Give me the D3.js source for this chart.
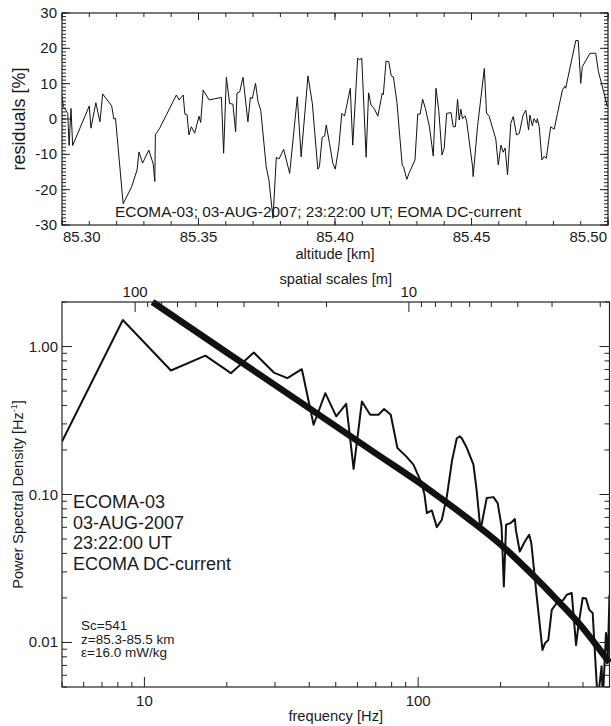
<!DOCTYPE html>
<html lang="en">
<head>
<meta charset="utf-8">
<title>ECOMA-03 residuals and spectrum</title>
<script src="https://cdn.jsdelivr.net/npm/d3@7"></script>
<style>
  body { margin: 0; background: #fff; }
  text { font-family: "Liberation Sans", Arial, Helvetica, sans-serif; fill: #1a1a1a; }
</style>
</head>
<body>
<script>

// ---- top panel: residuals along altitude ----
let altitude = [85.3000, 85.3005, 85.3014, 85.3021, 85.3026, 85.3033, 85.3039, 85.3100, 85.3106, 85.3124,
  85.3139, 85.3149, 85.3182, 85.3190, 85.3196, 85.3202, 85.3224, 85.3255, 85.3275, 85.3282,
  85.3295, 85.3318, 85.3334, 85.3340, 85.3342, 85.3358, 85.3419, 85.3429, 85.3444, 85.3450,
  85.3458, 85.3465, 85.3474, 85.3486, 85.3502, 85.3508, 85.3517, 85.3539, 85.3584, 85.3592,
  85.3602, 85.3614, 85.3626, 85.3636, 85.3641, 85.3651, 85.3663, 85.3681, 85.3690, 85.3697,
  85.3709, 85.3718, 85.3728, 85.3748, 85.3758, 85.3763, 85.3773, 85.3785, 85.3795, 85.3812,
  85.3834, 85.3862, 85.3876, 85.3901, 85.3917, 85.3937, 85.3943, 85.3953, 85.3962, 85.3968,
  85.3980, 85.3992, 85.4001, 85.4014, 85.4025, 85.4035, 85.4056, 85.4065, 85.4083, 85.4090,
  85.4098, 85.4114, 85.4123, 85.4132, 85.4144, 85.4157, 85.4173, 85.4177, 85.4187, 85.4197,
  85.4206, 85.4214, 85.4227, 85.4246, 85.4251, 85.4263, 85.4272, 85.4293, 85.4303, 85.4312,
  85.4321, 85.4331, 85.4346, 85.4360, 85.4370, 85.4380, 85.4392, 85.4400, 85.4409, 85.4425,
  85.4433, 85.4441, 85.4449, 85.4455, 85.4461, 85.4467, 85.4476, 85.4482, 85.4504, 85.4506,
  85.4522, 85.4547, 85.4555, 85.4565, 85.4589, 85.4598, 85.4608, 85.4616, 85.4623, 85.4632,
  85.4644, 85.4653, 85.4665, 85.4675, 85.4689, 85.4699, 85.4709, 85.4714, 85.4723, 85.4729,
  85.4738, 85.4741, 85.4748, 85.4758, 85.4766, 85.4774, 85.4790, 85.4803, 85.4815, 85.4833,
  85.4842, 85.4845, 85.4882, 85.4891, 85.4900, 85.4906, 85.4934, 85.4955, 85.4965, 85.4989, 85.4997];

let residual = [6.8, 3.5, 2.5, 1.6, -7.5, 3.0, -7.5, 3.7, -2.6, 4.6,
  -0.8, 7.1, 3.7, 0.0, 0.2, -5.0, -24.0, -19.2, -14.4, -9.3,
  -12.5, -8.8, -12.7, -17.7, -4.5, -2.6, 6.8, 5.4, 6.8, 1.4,
  1.2, -4.5, -2.2, -4.0, 0.8, -1.0, 8.2, 5.4, 6.1, -9.7,
  11.8, 4.4, 4.2, -3.6, 7.3, 7.7, 11.8, -0.8, 6.1, 5.8,
  10.1, 4.9, 2.5, -13.5, -17.3, -21.0, -28.1, -10.9, -11.3, -8.6,
  -15.4, 6.3, -10.7, 12.2, 4.4, -14.2, -13.5, -5.2, -4.8, -1.7,
  -6.9, -12.5, -14.2, -7.8, 1.6, 0.8, 8.7, -7.4, 17.2, 16.8,
  17.2, -10.8, 7.4, 4.0, 2.9, 0.8, 7.3, 6.9, 16.4, 16.2,
  12.2, 11.9, 4.6, -13.0, -13.5, -17.1, -15.2, -11.6, 1.4, 1.4,
  5.6, 3.0, -2.2, -10.5, 8.7, 2.5, -10.2, -8.2, 1.6, 1.8,
  -2.2, -2.2, 5.6, -0.3, 2.8, 0.1, 0.9, -0.5, -13.5, -16.3,
  -2.2, 14.3, 1.7, 0.7, -5.7, -13.0, -7.4, -9.4, -8.2, -15.8,
  -1.2, 0.7, -4.5, -4.1, 1.1, 2.5, -3.1, 1.1, -1.9, 0.1,
  -1.1, 0.1, -2.2, -11.6, -10.6, -11.1, -2.2, -2.9, 1.6, 8.2,
  9.3, 8.7, 22.2, 22.2, 10.1, 14.8, 18.6, 18.6, 13.4, 6.3, 3.5];

let altTicks = [85.30, 85.35, 85.40, 85.45, 85.50];
let resTicks = [-30, -20, -10, 0, 10, 20, 30];

// ---- bottom panel: power spectrum ----
let freq = [5.0, 8.34, 12.5, 16.7, 20.7, 25.1, 29.7, 33.3, 37.6, 41.5,
  45.8, 50.2, 54.6, 58.1, 62.3, 66.8, 71.6, 75.1, 79.4, 84.0,
  90.4, 96.1, 103, 105.5, 107.6, 112.2, 117, 122, 127.3, 133,
  138.4, 142, 144.3, 150.7, 159.2, 163.5, 168.4, 170.5, 178, 188.4,
  195.2, 201.7, 205.6, 209.5, 217.8, 225.6, 227.5, 235, 245.3, 254.4,
  259, 270.7, 284.5, 290.8, 298.9, 307.6, 318.8, 339.1, 348.9, 363.9,
  377.4, 384.6, 399, 410.4, 421.9, 434, 452.7, 467.7, 473, 485.5, 493, 500];

let psd = [0.228, 1.51, 0.689, 0.869, 0.661, 0.911, 0.667, 0.611, 0.703, 0.296,
  0.484, 0.337, 0.410, 0.149, 0.425, 0.346, 0.346, 0.378, 0.346, 0.206,
  0.181, 0.159, 0.119, 0.0995, 0.0749, 0.078, 0.0602, 0.0675, 0.097, 0.17,
  0.240, 0.247, 0.240, 0.206, 0.159, 0.1075, 0.0608, 0.0625, 0.0946, 0.096,
  0.0874, 0.0608, 0.0239, 0.0624, 0.0642, 0.0682, 0.0577, 0.0412, 0.0481, 0.0534,
  0.047, 0.021, 0.0089, 0.0099, 0.0104, 0.0166, 0.0182, 0.0194, 0.021, 0.0216,
  0.0096, 0.0128, 0.020, 0.0198, 0.0166, 0.0158, 0.0040, 0.0069, 0.0042, 0.0116, 0.0080, 0.021];

// fitted model spectrum (thick curve)
let fitFreq = [10.7, 20.0, 37.1, 68.7, 107.6, 154.8, 199.2, 263.6, 329.7, 390.2, 461.5, 500];
let fitPsd = [2.0, 0.912, 0.421, 0.194, 0.1105, 0.0671, 0.0462, 0.0283, 0.0185, 0.0132, 0.0089, 0.0073];

let freqTicks = [10, 100];
let psdTicks = [0.01, 0.1, 1];
let psdLabels = ["0.01", "0.10", "1.00"];
let scaleTicks = [100, 10];   // spatial scales [m]
let rocketSpeed = 925;        // m/s, spatial scale = speed / frequency

let infoLines = ["ECOMA-03", "03-AUG-2007", "23:22:00 UT", "ECOMA DC-current"];
let paramLines = ["Sc=541", "z=85.3-85.5 km", "\u03b5=16.0 mW/kg"];

//Create SVG element
let svg = d3.select("body")
            .append("svg")
              .attr("width", 611)
              .attr("height", 726);

let ax = svg.append("g").attr("stroke", "#222").attr("stroke-width", 1);

// tick marks along a horizontal edge (len < 0 points up)
function vTicks(scale, vals, y0, len) {
  vals.forEach(v => ax.append("line")
    .attr("x1", scale(v)).attr("x2", scale(v))
    .attr("y1", y0).attr("y2", y0 + len));
}
// tick marks along a vertical edge
function hTicks(scale, vals, x0, len) {
  vals.forEach(v => ax.append("line")
    .attr("y1", scale(v)).attr("y2", scale(v))
    .attr("x1", x0).attr("x2", x0 + len));
}

// ================= top panel =================
let t = {l: 62, r: 608, t: 13, b: 225};
let x1 = d3.scaleLinear().domain([85.30, 85.50]).range([t.l, t.r]);
let y1 = d3.scaleLinear().domain([-30, 30]).range([t.b, t.t]);

svg.append("clipPath").attr("id", "clip1").append("rect")
   .attr("x", t.l).attr("y", t.t).attr("width", t.r - t.l).attr("height", t.b - t.t);

svg.append("path")
   .attr("clip-path", "url(#clip1)")
   .attr("fill", "none")
   .attr("stroke", "#111")
   .attr("stroke-width", 1)
   .attr("stroke-linejoin", "round")
   .attr("d", d3.line().x((d, i) => x1(altitude[i])).y(d => y1(d))(residual));

svg.append("rect")
   .attr("x", t.l).attr("y", t.t).attr("width", t.r - t.l).attr("height", t.b - t.t)
   .attr("fill", "none").attr("stroke", "#222").attr("stroke-width", 1.2);

let altMinor = x1.ticks(20);
let resMinor = y1.ticks(60);
vTicks(x1, altMinor, t.b, -4);
vTicks(x1, altTicks, t.b, -7);
vTicks(x1, altMinor, t.t, 4);
vTicks(x1, altTicks, t.t, 7);
hTicks(y1, resMinor, t.l, 4);
hTicks(y1, resTicks, t.l, 8);
hTicks(y1, resMinor, t.r, -4);
hTicks(y1, resTicks, t.r, -8);

// altitude labels, the end ones kept inside the frame
altTicks.forEach(v => {
  let lbl = svg.append("text")
    .attr("x", x1(v)).attr("y", 242)
    .attr("text-anchor", "middle")
    .attr("font-size", 15)
    .text(v.toFixed(2));
  let half = lbl.node().getComputedTextLength() / 2;
  if (x1(v) - half < t.l) lbl.attr("x", t.l + 1).attr("text-anchor", "start");
  if (x1(v) + half > t.r) lbl.attr("x", t.r - 1).attr("text-anchor", "end");
});

resTicks.forEach(v => {
  svg.append("text")
    .attr("x", 57).attr("y", y1(v) + 5)
    .attr("text-anchor", "end")
    .attr("font-size", 15)
    .text(v);
});

svg.append("text")
   .attr("x", (t.l + t.r) / 2).attr("y", 259)
   .attr("text-anchor", "middle").attr("font-size", 14.7)
   .text("altitude [km]");

svg.append("text")
   .attr("transform", `translate(25,${(t.t + t.b) / 2}) rotate(-90)`)
   .attr("text-anchor", "middle").attr("font-size", 18)
   .text("residuals [%]");

svg.append("text")
   .attr("x", 115).attr("y", 217)
   .attr("font-size", 15.4)
   .text("ECOMA-03; 03-AUG-2007; 23:22:00 UT; EOMA DC-current");

// ================= bottom panel =================
let b = {l: 62, r: 609.5, t: 302, b: 687};
let x2 = d3.scaleLog().domain([5, 500]).range([b.l, b.r]);
let y2 = d3.scaleLog().domain([0.005, 2]).range([b.b, b.t]);
// spatial scale axis on top, lambda = speed / f
let lam = d3.scaleLog().domain([rocketSpeed / 5, rocketSpeed / 500]).range([b.l, b.r]);

svg.append("clipPath").attr("id", "clip2").append("rect")
   .attr("x", b.l).attr("y", b.t).attr("width", b.r - b.l).attr("height", b.b - b.t);

svg.append("path")
   .attr("clip-path", "url(#clip2)")
   .attr("fill", "none")
   .attr("stroke", "#111")
   .attr("stroke-width", 2)
   .attr("stroke-linejoin", "round")
   .attr("d", d3.line().x((d, i) => x2(freq[i])).y(d => y2(d))(psd));

svg.append("path")
   .attr("fill", "none")
   .attr("stroke", "#111")
   .attr("stroke-width", 6.5)
   .attr("d", d3.line().curve(d3.curveMonotoneX)
                .x((d, i) => x2(fitFreq[i])).y(d => y2(d))(fitPsd));

svg.append("rect")
   .attr("x", b.l).attr("y", b.t).attr("width", b.r - b.l).attr("height", b.b - b.t)
   .attr("fill", "none").attr("stroke", "#222").attr("stroke-width", 1.2);

let isDecade = v => Math.abs(Math.log10(v) - Math.round(Math.log10(v))) < 1e-6;
let fMinor = x2.ticks().filter(v => !isDecade(v));
let pMinor = y2.ticks().filter(v => !isDecade(v));
let lMinor = lam.ticks().filter(v => !isDecade(v));

vTicks(x2, fMinor, b.b, -5);
vTicks(x2, freqTicks, b.b, -10);
vTicks(lam, lMinor, b.t, 5);
vTicks(lam, scaleTicks, b.t, 10);
hTicks(y2, pMinor, b.l, 5);
hTicks(y2, psdTicks, b.l, 10);
hTicks(y2, pMinor, b.r, -5);
hTicks(y2, psdTicks, b.r, -10);

freqTicks.forEach(v => {
  svg.append("text")
    .attr("x", x2(v)).attr("y", 706)
    .attr("text-anchor", "middle").attr("font-size", 15)
    .text(v);
});

scaleTicks.forEach(v => {
  svg.append("text")
    .attr("x", lam(v)).attr("y", 297)
    .attr("text-anchor", "middle").attr("font-size", 15)
    .text(v);
});

psdTicks.forEach((v, i) => {
  svg.append("text")
    .attr("x", 58).attr("y", y2(v) + 5)
    .attr("text-anchor", "end").attr("font-size", 15)
    .text(psdLabels[i]);
});

svg.append("text")
   .attr("x", (b.l + b.r) / 2).attr("y", 721)
   .attr("text-anchor", "middle").attr("font-size", 14.7)
   .text("frequency [Hz]");

svg.append("text")
   .attr("x", (b.l + b.r) / 2).attr("y", 284)
   .attr("text-anchor", "middle").attr("font-size", 14.7)
   .text("spatial scales [m]");

let ylab = svg.append("text")
   .attr("transform", `translate(23,${(b.t + b.b) / 2}) rotate(-90)`)
   .attr("text-anchor", "middle").attr("font-size", 14.5);
ylab.append("tspan").text("Power Spectral Density [Hz");
ylab.append("tspan").attr("dy", -6).attr("font-size", 9).text("-1");
ylab.append("tspan").attr("dy", 6).text("]");

infoLines.forEach((s, i) => {
  svg.append("text")
    .attr("x", 73).attr("y", 508 + i * 20.5)
    .attr("font-size", 18)
    .text(s);
});

paramLines.forEach((s, i) => {
  svg.append("text")
    .attr("x", 81).attr("y", 630 + i * 13.5)
    .attr("font-size", 13.5)
    .text(s);
});

</script>
</body>
</html>
